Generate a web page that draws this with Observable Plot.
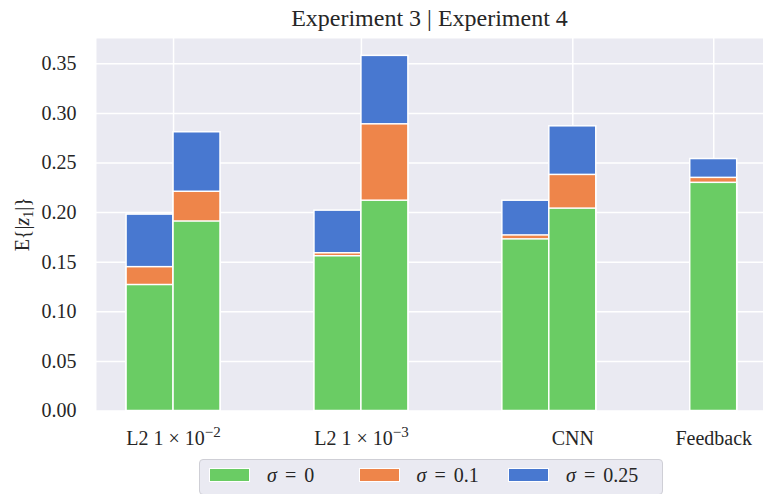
<!DOCTYPE html>
<html><head><meta charset="utf-8">
<script src="https://cdn.jsdelivr.net/npm/d3@7"></script>
<script src="https://cdn.jsdelivr.net/npm/@observablehq/plot@0.6"></script>
<style>
body{margin:0;background:#fff;font-family:"Liberation Serif",serif;color:#262626;}
#wrap{position:relative;width:763px;height:494px;overflow:hidden;}
#title{position:absolute;left:96px;width:667px;top:6px;text-align:center;font-size:24px;line-height:24px;}
#chart{position:absolute;left:0;top:38px;}
#legend{position:absolute;left:199px;top:459px;width:464px;height:36px;box-sizing:border-box;border:1px solid #cfcfd6;border-radius:4px;background:#eaeaf2;}
.sw{position:absolute;top:8px;width:41px;height:14px;box-sizing:border-box;border:1px solid #fff;}
.lt{position:absolute;top:5px;font-size:20px;line-height:20px;word-spacing:3px;white-space:nowrap;}
</style>
</head><body>
<div id="wrap">
  <div id="title"></div>
  <div id="chart"></div>
  <div id="legend"></div>
</div>
<script>
const titleText = "Experiment 3 | Experiment 4";
const groups = ["L2 1 × 10^−2", "L2 1 × 10^−3", "CNN", "Feedback"];
const groupPos = [0, 1, 2, 3];
const tickPos = [0, 1, 2.125, 2.875];
const yTicks = [0, 0.05, 0.10, 0.15, 0.20, 0.25, 0.30, 0.35];
const sigmas = ["σ = 0", "σ = 0.1", "σ = 0.25"];
const colors = ["#6acc64", "#ee854a", "#4878d0"];
// E{|z1|} per group, Experiment 3 (left bar) and Experiment 4 (right bar)
const exp3_sigma0   = [0.127, 0.156, 0.173, 0.230];
const exp3_sigma01  = [0.145, 0.159, 0.177, 0.235];
const exp3_sigma025 = [0.198, 0.202, 0.212, 0.254];
const exp4_sigma0   = [0.191, 0.212, 0.204, null];
const exp4_sigma01  = [0.221, 0.289, 0.238, null];
const exp4_sigma025 = [0.281, 0.358, 0.287, null];

const barW = 0.25;
const series = [
  [exp3_sigma025, exp4_sigma025],
  [exp3_sigma01, exp4_sigma01],
  [exp3_sigma0, exp4_sigma0]
];
const sigOrder = [2, 1, 0];
const rows = [];
series.forEach((pair, k) => {
  pair.forEach((vals, e) => {
    vals.forEach((v, g) => {
      if (v == null) return;
      const x1 = groupPos[g] + (e === 0 ? -barW : 0);
      rows.push({x1, x2: x1 + barW, v, sigma: sigmas[sigOrder[k]]});
    });
  });
});

document.getElementById("title").textContent = titleText;

const plot = Plot.plot({
  width: 763, height: 416,
  marginLeft: 96, marginRight: 0, marginTop: 0, marginBottom: 43.5,
  style: {fontFamily: "Liberation Serif", fontSize: "20px", color: "#262626", background: "transparent", overflow: "visible"},
  x: {type: "linear", domain: [-0.41, 3.14], ticks: tickPos, tickFormat: d => groups[tickPos.indexOf(d)], tickSize: 0, tickPadding: 20, label: null},
  y: {domain: [0, 0.3755], ticks: yTicks, tickFormat: d3.format(".2f"), tickSize: 0, tickPadding: 20, label: null},
  color: {domain: sigmas, range: colors},
  marks: [
    Plot.frame({fill: "#eaeaf2", stroke: null}),
    Plot.gridY(yTicks, {stroke: "#fff", strokeOpacity: 1, strokeWidth: 1.5}),
    Plot.gridX(tickPos, {stroke: "#fff", strokeOpacity: 1, strokeWidth: 1.5}),
    Plot.rectY(rows, {x1: "x1", x2: "x2", y1: 0, y2: "v", fill: "sigma", stroke: "#fff", strokeWidth: 1.5})
  ]
});
document.getElementById("chart").appendChild(plot);

const svg = d3.select(plot);
// render exponents as real superscripts
svg.selectAll("text").each(function() {
  const t = d3.select(this);
  const s = t.text();
  if (s.includes("^")) {
    const [base, exp] = s.split("^");
    t.text(null);
    t.append("tspan").text(base);
    t.append("tspan").attr("font-size", "15px").attr("dy", "-8").text(exp);
  }
});

// y-axis label with italic z and subscript 1
const lab = svg.append("text")
  .attr("transform", "translate(22," + (372.5 / 2) + ") rotate(-90)")
  .attr("text-anchor", "middle").attr("dy", "0.35em")
  .attr("fill", "#262626").style("font-size", "20px");
lab.append("tspan").text("E{|");
lab.append("tspan").attr("font-style", "italic").text("z");
lab.append("tspan").attr("font-size", "14px").attr("dy", "4").text("1");
lab.append("tspan").attr("dy", "-4").text("|}");

// legend
const leg = d3.select("#legend");
sigmas.forEach((s, i) => {
  const left = 9 + i * 149.5;
  leg.append("div").attr("class", "sw").style("left", left + "px").style("background", colors[i]);
  const t = leg.append("div").attr("class", "lt").style("left", (left + 58) + "px");
  const parts = s.split(" ");
  t.append("i").text(parts[0]);
  t.append("span").text(" " + parts.slice(1).join(" "));
});
</script>
</body></html>
